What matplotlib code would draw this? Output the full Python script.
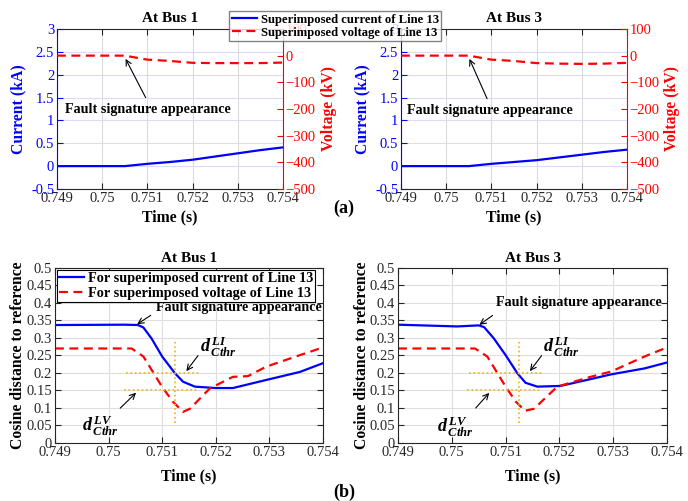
import matplotlib
matplotlib.use("Agg")
import matplotlib.pyplot as plt
import numpy as np

plt.rcParams['font.family'] = ['Liberation Serif', 'DejaVu Serif']
plt.rcParams['mathtext.fontset'] = 'custom'
plt.rcParams['mathtext.rm'] = 'Liberation Serif'
plt.rcParams['mathtext.it'] = 'Liberation Serif:italic:bold'
plt.rcParams['mathtext.bf'] = 'Liberation Serif:bold'

# ---------------- data (a) ----------------
t_a = [0.749, 0.7505, 0.751, 0.7515, 0.752, 0.7525, 0.753, 0.7535, 0.754]
cur_bus1 = [0.0, 0.0, 0.05, 0.09, 0.14, 0.21, 0.28, 0.35, 0.41]
volt_bus1 = [0, 0, -15, -20, -27, -28, -28, -28, -26]
cur_bus3 = [0.0, 0.0, 0.05, 0.09, 0.13, 0.19, 0.25, 0.31, 0.36]
volt_bus3 = [0, 0, -15, -20, -28, -30, -31, -30, -27]

# ---------------- data (b) ----------------
t_b1_i = [0.749, 0.7503, 0.75055, 0.75065, 0.7508, 0.751, 0.75124, 0.75139, 0.75161, 0.752, 0.75232, 0.75294, 0.75357, 0.754]
d_b1_i = [0.337, 0.338, 0.337, 0.330, 0.299, 0.247, 0.199, 0.175, 0.161, 0.157, 0.157, 0.180, 0.203, 0.228]
t_b1_v = [0.749, 0.75043, 0.75065, 0.751, 0.7512, 0.75139, 0.75152, 0.75189, 0.75232, 0.7526, 0.75294, 0.75357, 0.754]
d_b1_v = [0.270, 0.270, 0.247, 0.160, 0.118, 0.089, 0.098, 0.156, 0.189, 0.191, 0.218, 0.251, 0.273]

t_b3_i = [0.749, 0.7501, 0.7505, 0.7506, 0.75078, 0.751, 0.75122, 0.75137, 0.75159, 0.75202, 0.75265, 0.75296, 0.75358, 0.754]
d_b3_i = [0.338, 0.333, 0.336, 0.331, 0.299, 0.251, 0.199, 0.172, 0.161, 0.163, 0.185, 0.196, 0.213, 0.230]
t_b3_v = [0.749, 0.75043, 0.75066, 0.751, 0.75119, 0.75136, 0.75153, 0.75196, 0.75258, 0.75296, 0.75358, 0.754]
d_b3_v = [0.270, 0.270, 0.247, 0.161, 0.118, 0.092, 0.098, 0.161, 0.189, 0.204, 0.247, 0.273]

xticks = [0.749, 0.75, 0.751, 0.752, 0.753, 0.754]
xticklabels = ['0.749', '0.75', '0.751', '0.752', '0.753', '0.754']

fig = plt.figure(figsize=(6.88, 5.01), dpi=100)

BLUE = (0, 0, 1)
RED = (1, 0, 0)
ORANGE = (0.93, 0.69, 0.13)
TICKFS = 10.5
LABFS = 11.3
FSAFS = 10.2


def top_panel(rect, t, cur, volt, title, text_xy, arrow_tail, arrow_head, ylx, yrx):
    ax = fig.add_axes(rect)
    ax.set_xlim(0.749, 0.754)
    ax.set_ylim(-0.5, 3)
    ax.set_xticks(xticks)
    ax.set_xticklabels(xticklabels)
    ax.set_yticks([-0.5, 0, 0.5, 1, 1.5, 2, 2.5, 3])
    ax.set_yticklabels(['-0.5', '0', '0.5', '1', '1.5', '2', '2.5', '3'])
    ax.yaxis.grid(True, color=(0.86, 0.86, 0.98), lw=0.8)
    ax.xaxis.grid(True, color=(0.86, 0.86, 0.86), lw=0.8)
    ax.set_axisbelow(True)
    l1, = ax.plot(t, cur, color=BLUE, lw=1.6, label='Superimposed current of Line 13')
    ax.tick_params(axis='y', colors=BLUE, direction='in', labelsize=TICKFS, length=4, pad=2)
    ax.tick_params(axis='x', colors=(0.15, 0.15, 0.15), direction='in', labelsize=TICKFS,
                   length=4, top=True, pad=2)
    ax.spines['left'].set_color(BLUE)
    ax.spines['right'].set_visible(False)
    ax.spines['top'].set_color((0.15, 0.15, 0.15))
    ax.spines['bottom'].set_color((0.15, 0.15, 0.15))
    ax.set_ylabel('Current (kA)', color=BLUE, fontsize=LABFS, fontweight='bold')
    ax.yaxis.set_label_coords(ylx, 0.5)
    ax.set_xlabel('Time (s)', fontsize=LABFS, fontweight='bold')
    ax.xaxis.set_label_coords(0.5, -0.125)
    ax.set_title(title, fontsize=11, fontweight='bold', pad=5)
    ax2 = ax.twinx()
    ax2.set_ylim(-500, 100)
    ax2.set_yticks([-500, -400, -300, -200, -100, 0, 100])
    l2, = ax2.plot(t, volt, color=RED, lw=1.6, ls=(0, (4, 2.5)), label='Superimposed voltage of Line 13')
    ax2.tick_params(axis='y', colors=RED, direction='in', labelsize=TICKFS, length=4, pad=2)
    ax2.spines['right'].set_color(RED)
    ax2.spines['left'].set_visible(False)
    ax2.spines['top'].set_visible(False)
    ax2.spines['bottom'].set_visible(False)
    ax2.set_ylabel('Voltage (kV)', color=RED, fontsize=LABFS, fontweight='bold')
    ax2.yaxis.set_label_coords(yrx, 0.5)
    ax.annotate('', xy=arrow_head, xytext=arrow_tail,
                arrowprops=dict(arrowstyle='->', color='black', lw=0.8))
    ax.text(text_xy[0], text_xy[1], 'Fault signature appearance', fontsize=FSAFS,
            fontweight='bold', va='center', ha='left')
    return ax, ax2, l1, l2


axA1, axA1r, l1, l2 = top_panel([0.0828, 0.6228, 0.3285, 0.3194], t_a, cur_bus1, volt_bus1,
                                'At Bus 1', (0.74917, 1.24), (0.75099, 1.445), (0.75049, 2.40),
                                -0.137, 1.168)
axA3, axA3r, _, _ = top_panel([0.5828, 0.6228, 0.3285, 0.3194], t_a, cur_bus3, volt_bus3,
                              'At Bus 3', (0.74913, 1.22), (0.75093, 1.42), (0.75049, 2.40),
                              -0.137, 1.164)

leg = fig.legend([l1, l2], ['Superimposed current of Line 13', 'Superimposed voltage of Line 13'],
                 loc='upper left', bbox_to_anchor=(229 / 688, 1 - 11 / 501),
                 prop={'weight': 'bold', 'size': 9.1}, frameon=True, fancybox=False,
                 borderpad=0.2, handlelength=2.0, handletextpad=0.3, labelspacing=0.1,
                 borderaxespad=0)
leg.get_frame().set_edgecolor((0.4, 0.4, 0.4))
leg.get_frame().set_linewidth(1.0)


def bottom_panel(rect, ti, di, tv, dv, title, fsa_text, fsa_tail, fsa_head,
                 li_text, li_tail, li_head, lv_text, lv_tail, lv_head, ylab_x, show_legend):
    ax = fig.add_axes(rect)
    ax.set_xlim(0.749, 0.754)
    ax.set_ylim(0, 0.5)
    ax.set_xticks(xticks)
    ax.set_xticklabels(xticklabels)
    ax.set_yticks(np.arange(0, 0.51, 0.05))
    ax.set_yticklabels(['0', '0.05', '0.1', '0.15', '0.2', '0.25', '0.3', '0.35', '0.4', '0.45', '0.5'])
    ax.grid(True, color=(0.87, 0.87, 0.87), lw=0.8)
    ax.set_axisbelow(True)
    for s in ax.spines.values():
        s.set_color((0.15, 0.15, 0.15))
    ax.tick_params(colors=(0.15, 0.15, 0.15), direction='in', labelsize=TICKFS, length=4,
                   top=True, right=True, pad=2)
    li, = ax.plot(ti, di, color=BLUE, lw=1.6, label='For superimposed current of Line 13')
    lv, = ax.plot(tv, dv, color=RED, lw=1.6, ls=(0, (4, 2.5)), label='For superimposed voltage of Line 13')
    # threshold crosshairs
    ax.plot([0.75124, 0.75124], [0.057, 0.296], color=ORANGE, lw=1.2, ls=':')
    ax.plot([0.75032, 0.7517], [0.2, 0.2], color=ORANGE, lw=1.2, ls=':')
    ax.plot([0.75029, 0.75167], [0.15, 0.15], color=ORANGE, lw=1.2, ls=':')
    ax.set_ylabel('Cosine distance to reference', fontsize=LABFS, fontweight='bold')
    ax.yaxis.set_label_coords(ylab_x, 0.5)
    ax.set_xlabel('Time (s)', fontsize=LABFS, fontweight='bold')
    ax.xaxis.set_label_coords(0.5, -0.143)
    ax.set_title(title, fontsize=11, fontweight='bold', pad=4)
    arr = dict(arrowstyle='->', color='black', lw=0.8)
    ax.annotate('', xy=fsa_head, xytext=fsa_tail, arrowprops=arr)
    ax.text(fsa_text[0], fsa_text[1], 'Fault signature appearance', fontsize=FSAFS,
            fontweight='bold', va='center', ha='left', clip_on=False)
    ax.annotate('', xy=li_head, xytext=li_tail, arrowprops=arr)
    ax.text(li_text[0], li_text[1], r'$d^{\,LI}_{\,Cthr}$', fontsize=13, va='center', ha='center')
    ax.annotate('', xy=lv_head, xytext=lv_tail, arrowprops=arr)
    ax.text(lv_text[0], lv_text[1], r'$d^{\,LV}_{\,Cthr}$', fontsize=13, va='center', ha='center')
    if show_legend:
        lg = ax.legend(loc='upper left', prop={'weight': 'bold', 'size': 10.3}, frameon=True,
                       fancybox=False, borderpad=0.15, handlelength=1.7, handletextpad=0.3,
                       labelspacing=0.1, borderaxespad=0.15)
        lg.get_frame().set_edgecolor('black')
        lg.get_frame().set_linewidth(0.8)
        lg.get_frame().set_alpha(1)
    return ax


bottom_panel([0.0799, 0.1158, 0.3895, 0.3493], t_b1_i, d_b1_i, t_b1_v, d_b1_v, 'At Bus 1',
             (0.75089, 0.387), (0.75083, 0.369), (0.75049, 0.335),
             (0.75204, 0.275), (0.7517, 0.256), (0.75142, 0.199),
             (0.74984, 0.05), (0.75018, 0.094), (0.75055, 0.149), -0.108, True)
bottom_panel([0.5785, 0.1158, 0.391, 0.3493], t_b3_i, d_b3_i, t_b3_v, d_b3_v, 'At Bus 3',
             (0.75083, 0.40), (0.75080, 0.369), (0.75047, 0.333),
             (0.75204, 0.275), (0.7517, 0.256), (0.75142, 0.199),
             (0.75007, 0.045), (0.75041, 0.094), (0.75073, 0.149), -0.104, False)

fig.text(0.5, 1 - 208 / 501, '(a)', fontsize=13, fontweight='bold', ha='center', va='center')
fig.text(0.5, 1 - 492 / 501, '(b)', fontsize=13, fontweight='bold', ha='center', va='center')

fig.savefig('out.png', dpi=100)
